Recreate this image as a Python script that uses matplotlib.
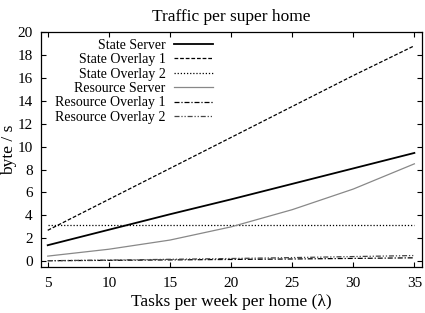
import matplotlib
matplotlib.use("Agg")
import matplotlib.pyplot as plt

plt.rcParams['font.family'] = ['Liberation Serif', 'DejaVu Serif']

x = [5, 10, 15, 20, 25, 30, 35]
state_server = [1.4, 2.75, 4.1, 5.4, 6.75, 8.1, 9.45]
state_overlay1 = [2.7, 5.4, 8.1, 10.8, 13.5, 16.2, 18.8]
state_overlay2 = [3.2, 3.2, 3.2, 3.2, 3.2, 3.2, 3.2]
resource_server = [0.45, 1.05, 1.85, 3.0, 4.5, 6.3, 8.5]
resource_overlay1 = [0.05, 0.08, 0.12, 0.16, 0.2, 0.25, 0.3]
resource_overlay2 = [0.05, 0.1, 0.17, 0.24, 0.32, 0.41, 0.5]

labels = ["State Server", "State Overlay 1", "State Overlay 2",
          "Resource Server", "Resource Overlay 1", "Resource Overlay 2"]
xticks = [5, 10, 15, 20, 25, 30, 35]
yticks = [0, 2, 4, 6, 8, 10, 12, 14, 16, 18, 20]

fig = plt.figure(figsize=(4.25, 3.13), dpi=100)
ax = fig.add_axes([41/425, 1-267/313, (421.7-41)/425, (267-32)/313])

ax.plot(x, state_server, color='black', lw=1.3, ls='-', label=labels[0])
ax.plot(x, state_overlay1, color='black', lw=0.9, ls=(0, (3, 1.5)), label=labels[1])
ax.plot(x, state_overlay2, color='black', lw=0.9, ls=(0, (1, 1.5)), label=labels[2])
ax.plot(x, resource_server, color='#888888', lw=0.9, ls='-', label=labels[3])
ax.plot(x, resource_overlay1, color='black', lw=0.9, ls=(0, (4, 1.5, 1, 1.5)), label=labels[4])
ax.plot(x, resource_overlay2, color='#444444', lw=0.9, ls=(0, (4, 1.5, 1, 1.5, 1, 1.5)), label=labels[5])

ax.set_xlim(4.45, 35.6)
ax.set_ylim(-0.5, 20)
ax.set_xticks(xticks)
ax.set_yticks(yticks)
ax.tick_params(direction='in', top=True, right=True, labelsize=11, length=3.5, width=0.8)
ax.tick_params(axis='y', pad=6)
ax.tick_params(axis='x', pad=7)
for s in ax.spines.values():
    s.set_linewidth(0.9)

ax.set_title("Traffic per super home", fontsize=12.5, pad=8)
ax.set_xlabel("Tasks per week per home (λ)", fontsize=12.5, labelpad=3)
ax.set_ylabel("byte / s", fontsize=12.5)
ax.yaxis.set_label_coords(-0.062, 0.5)

leg = ax.legend(loc='upper left', bbox_to_anchor=(0.013, 1.009), frameon=False,
                markerfirst=False, fontsize=10, handlelength=2.8,
                labelspacing=0.1, handletextpad=0.6, borderaxespad=0.25)
for t in leg.get_texts():
    t.set_ha('right')
leg._legend_box.align = 'right'

fig.savefig("out.png", dpi=100)
